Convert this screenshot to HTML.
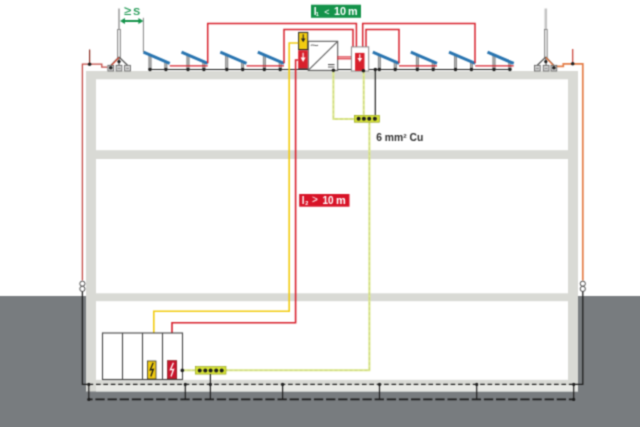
<!DOCTYPE html>
<html><head><meta charset="utf-8"><style>html,body{margin:0;padding:0;background:#fff;}svg{display:block;}#w{width:640px;height:427px;overflow:hidden;}</style></head>
<body><div id="w"><svg width="640" height="427" viewBox="0 0 640 427">
<defs><filter id="soft" filterUnits="userSpaceOnUse" x="0" y="0" width="640" height="427" color-interpolation-filters="sRGB"><feConvolveMatrix order="3" kernelMatrix="1 3 1 3 9 3 1 3 1" edgeMode="duplicate"/></filter></defs>
<g filter="url(#soft)">
<rect x="0" y="0" width="640" height="427" fill="#fff"/>
<rect x="0" y="296" width="640" height="131" fill="#787c7f"/>
<rect x="86" y="71" width="492" height="320.5" fill="#d9dad5"/>
<rect x="96" y="385" width="482" height="6.5" fill="#e8e9e5"/>
<rect x="96" y="79.3" width="472" height="70.89999999999999" fill="#fff"/>
<rect x="96" y="159" width="472" height="134.3" fill="#fff"/>
<rect x="96" y="301.2" width="472" height="78.60000000000002" fill="#fff"/>
<line x1="149.5" y1="69.5" x2="510.5" y2="69.5" stroke="#1e1e1e" stroke-width="1.2"/>
<rect x="148.9" y="55.0" width="2.2" height="14.5" fill="#b4b4b4" stroke="#5a5a5a" stroke-width="0.6"/>
<rect x="164.8" y="61.8" width="2.2" height="7.7" fill="#b4b4b4" stroke="#5a5a5a" stroke-width="0.6"/>
<line x1="143.5" y1="52.2" x2="169.7" y2="63.4" stroke="#2874b0" stroke-width="3"/>
<circle cx="150.0" cy="69.5" r="1.8" fill="#1e1e1e"/>
<circle cx="165.9" cy="69.5" r="1.8" fill="#1e1e1e"/>
<rect x="186.9" y="55.0" width="2.2" height="14.5" fill="#b4b4b4" stroke="#5a5a5a" stroke-width="0.6"/>
<rect x="202.8" y="61.8" width="2.2" height="7.7" fill="#b4b4b4" stroke="#5a5a5a" stroke-width="0.6"/>
<line x1="181.5" y1="52.2" x2="207.7" y2="63.4" stroke="#2874b0" stroke-width="3"/>
<circle cx="188.0" cy="69.5" r="1.8" fill="#1e1e1e"/>
<circle cx="203.9" cy="69.5" r="1.8" fill="#1e1e1e"/>
<rect x="225.7" y="55.0" width="2.2" height="14.5" fill="#b4b4b4" stroke="#5a5a5a" stroke-width="0.6"/>
<rect x="241.6" y="61.8" width="2.2" height="7.7" fill="#b4b4b4" stroke="#5a5a5a" stroke-width="0.6"/>
<line x1="220.3" y1="52.2" x2="246.5" y2="63.4" stroke="#2874b0" stroke-width="3"/>
<circle cx="226.8" cy="69.5" r="1.8" fill="#1e1e1e"/>
<circle cx="242.70000000000002" cy="69.5" r="1.8" fill="#1e1e1e"/>
<rect x="263.2" y="55.0" width="2.2" height="14.5" fill="#b4b4b4" stroke="#5a5a5a" stroke-width="0.6"/>
<rect x="279.1" y="61.8" width="2.2" height="7.7" fill="#b4b4b4" stroke="#5a5a5a" stroke-width="0.6"/>
<line x1="257.8" y1="52.2" x2="284.0" y2="63.4" stroke="#2874b0" stroke-width="3"/>
<circle cx="264.3" cy="69.5" r="1.8" fill="#1e1e1e"/>
<circle cx="280.2" cy="69.5" r="1.8" fill="#1e1e1e"/>
<rect x="378.2" y="55.0" width="2.2" height="14.5" fill="#b4b4b4" stroke="#5a5a5a" stroke-width="0.6"/>
<rect x="394.1" y="61.8" width="2.2" height="7.7" fill="#b4b4b4" stroke="#5a5a5a" stroke-width="0.6"/>
<line x1="372.8" y1="52.2" x2="399.0" y2="63.4" stroke="#2874b0" stroke-width="3"/>
<circle cx="379.3" cy="69.5" r="1.8" fill="#1e1e1e"/>
<circle cx="395.2" cy="69.5" r="1.8" fill="#1e1e1e"/>
<rect x="416.2" y="55.0" width="2.2" height="14.5" fill="#b4b4b4" stroke="#5a5a5a" stroke-width="0.6"/>
<rect x="432.1" y="61.8" width="2.2" height="7.7" fill="#b4b4b4" stroke="#5a5a5a" stroke-width="0.6"/>
<line x1="410.8" y1="52.2" x2="437.0" y2="63.4" stroke="#2874b0" stroke-width="3"/>
<circle cx="417.3" cy="69.5" r="1.8" fill="#1e1e1e"/>
<circle cx="433.2" cy="69.5" r="1.8" fill="#1e1e1e"/>
<rect x="454.4" y="55.0" width="2.2" height="14.5" fill="#b4b4b4" stroke="#5a5a5a" stroke-width="0.6"/>
<rect x="470.3" y="61.8" width="2.2" height="7.7" fill="#b4b4b4" stroke="#5a5a5a" stroke-width="0.6"/>
<line x1="449.0" y1="52.2" x2="475.2" y2="63.4" stroke="#2874b0" stroke-width="3"/>
<circle cx="455.5" cy="69.5" r="1.8" fill="#1e1e1e"/>
<circle cx="471.4" cy="69.5" r="1.8" fill="#1e1e1e"/>
<rect x="492.9" y="55.0" width="2.2" height="14.5" fill="#b4b4b4" stroke="#5a5a5a" stroke-width="0.6"/>
<rect x="508.8" y="61.8" width="2.2" height="7.7" fill="#b4b4b4" stroke="#5a5a5a" stroke-width="0.6"/>
<line x1="487.5" y1="52.2" x2="513.7" y2="63.4" stroke="#2874b0" stroke-width="3"/>
<circle cx="494.0" cy="69.5" r="1.8" fill="#1e1e1e"/>
<circle cx="509.9" cy="69.5" r="1.8" fill="#1e1e1e"/>
<line x1="169.7" y1="65.8" x2="207.7" y2="65.8" stroke="#d8202c" stroke-width="1.3"/>
<line x1="246.5" y1="65.8" x2="284.0" y2="65.8" stroke="#d8202c" stroke-width="1.3"/>
<line x1="399.0" y1="65.8" x2="437.0" y2="65.8" stroke="#d8202c" stroke-width="1.3"/>
<line x1="475.2" y1="65.8" x2="513.7" y2="65.8" stroke="#d8202c" stroke-width="1.3"/>
<polyline points="207.7,63.3 207.7,23.4 356.4,23.4 356.4,46.9" fill="none" stroke="#d8202c" stroke-width="1.5"/>
<polyline points="284,63.3 284,29.4 353,29.4 353,46.9" fill="none" stroke="#d8202c" stroke-width="1.5"/>
<polyline points="475,63.3 475,23.4 362.7,23.4 362.7,46.9" fill="none" stroke="#d8202c" stroke-width="1.5"/>
<polyline points="399,63.3 399,29.4 366,29.4 366,46.9" fill="none" stroke="#d8202c" stroke-width="1.5"/>
<rect x="311" y="4.7" width="50" height="13.1" fill="#14934a"/>
<text x="313.7" y="15.2" font-family="Liberation Sans" font-weight="bold" font-size="10.5" fill="#fff">l</text>
<text x="315.8" y="16.3" font-family="Liberation Sans" font-weight="bold" font-size="5.5" fill="#fff">1</text>
<text x="324.3" y="14.6" font-family="Liberation Sans" font-size="9" fill="#fff">&lt;</text>
<text x="334" y="15.2" font-family="Liberation Sans" font-weight="bold" font-size="10.8" fill="#fff">10</text>
<text x="348" y="15.2" font-family="Liberation Sans" font-weight="bold" font-size="10.8" fill="#fff" textLength="9.6" lengthAdjust="spacingAndGlyphs">m</text>
<rect x="308.2" y="41.3" width="29.5" height="29.1" fill="#fff" stroke="#5a5a5a" stroke-width="1.1"/>
<line x1="308.2" y1="70.4" x2="337.7" y2="41.3" stroke="#5a5a5a" stroke-width="1.1"/>
<path d="M310.7 45.3 q1.8 -0.6 3.7 0 t3.7 0" fill="none" stroke="#555" stroke-width="0.9"/>
<line x1="328" y1="64.6" x2="334.5" y2="64.6" stroke="#444" stroke-width="1"/>
<line x1="328" y1="67" x2="334.5" y2="67" stroke="#444" stroke-width="0.9"/>
<rect x="298.6" y="32.4" width="9.2" height="17.1" fill="#f2cc10" stroke="#2a2a2a" stroke-width="1"/>
<line x1="303.2" y1="34.2" x2="303.2" y2="39.5" stroke="#222" stroke-width="1.1"/>
<polygon points="300.9,38.6 305.5,38.6 303.2,42.3" fill="#222"/>
<rect x="298.2" y="50.2" width="9.6" height="18.5" fill="#d8202c"/>
<line x1="303.1" y1="52.8" x2="303.1" y2="58.5" stroke="#fff" stroke-width="1.1"/>
<polygon points="300.6,57.6 305.6,57.6 303.1,62" fill="#fff"/>
<line x1="298.2" y1="68.9" x2="307.8" y2="68.9" stroke="#222" stroke-width="0.8"/>
<line x1="337" y1="56.9" x2="351.2" y2="56.9" stroke="#d8202c" stroke-width="1.1"/>
<line x1="337" y1="58.8" x2="351.2" y2="58.8" stroke="#d8202c" stroke-width="1.1"/>
<rect x="351.4" y="46.9" width="17.3" height="24.1" fill="#fff" stroke="#888" stroke-width="1"/>
<rect x="355.1" y="52.9" width="9.4" height="18" fill="#d8202c"/>
<line x1="359.8" y1="54.2" x2="359.8" y2="59" stroke="#fff" stroke-width="1.1"/>
<polygon points="357.4,58 362.2,58 359.8,62" fill="#fff"/>
<polyline points="298.2,43 289.2,43 289.2,311.3 153.8,311.3 153.8,333" fill="none" stroke="#f2cc10" stroke-width="1.6"/>
<polyline points="298.2,60 295.6,60 295.6,322.8 172,322.8 172,333" fill="none" stroke="#d8202c" stroke-width="1.6"/>
<rect x="299.2" y="194" width="50.3" height="12.7" fill="#d81428"/>
<text x="301.8" y="203.6" font-family="Liberation Sans" font-weight="bold" font-size="10" fill="#fff">l</text>
<text x="305.3" y="205.2" font-family="Liberation Sans" font-weight="bold" font-size="5.5" fill="#fff">2</text>
<text x="312" y="203.3" font-family="Liberation Sans" font-size="10" fill="#fff">&gt;</text>
<text x="322.5" y="203.6" font-family="Liberation Sans" font-weight="bold" font-size="10" fill="#fff">10</text>
<text x="336" y="203.6" font-family="Liberation Sans" font-weight="bold" font-size="10" fill="#fff" textLength="9.8" lengthAdjust="spacingAndGlyphs">m</text>
<polyline points="333.4,70.5 333.4,119 354.4,119" fill="none" stroke="#dde98a" stroke-width="2"/>
<polyline points="333.4,70.5 333.4,119 354.4,119" fill="none" stroke="#a0a860" stroke-width="0.6" stroke-dasharray="3,2" opacity="0.55"/>
<polyline points="363.7,71 363.7,115.3" fill="none" stroke="#dde98a" stroke-width="2"/>
<polyline points="363.7,71 363.7,115.3" fill="none" stroke="#a0a860" stroke-width="0.6" stroke-dasharray="3,2" opacity="0.55"/>
<polyline points="369.4,122.2 369.4,370.3 226,370.3" fill="none" stroke="#dde98a" stroke-width="2"/>
<polyline points="369.4,122.2 369.4,370.3 226,370.3" fill="none" stroke="#a0a860" stroke-width="0.6" stroke-dasharray="3,2" opacity="0.55"/>
<polyline points="182.3,370.3 195.4,370.3" fill="none" stroke="#dde98a" stroke-width="2"/>
<polyline points="182.3,370.3 195.4,370.3" fill="none" stroke="#a0a860" stroke-width="0.6" stroke-dasharray="3,2" opacity="0.55"/>
<line x1="375.3" y1="69.5" x2="375.3" y2="115.3" stroke="#1e1e1e" stroke-width="1.2"/>
<circle cx="375.3" cy="69.5" r="1.8" fill="#1e1e1e"/>
<rect x="354.4" y="115.3" width="25.1" height="6.9" fill="#d6e236" stroke="#8a9a10" stroke-width="0.6"/>
<circle cx="358.6" cy="118.7" r="2" fill="#1e1e1e"/>
<circle cx="363.9" cy="118.7" r="2" fill="#1e1e1e"/>
<circle cx="369.2" cy="118.7" r="2" fill="#1e1e1e"/>
<circle cx="374.9" cy="118.7" r="2" fill="#1e1e1e"/>
<text x="376.2" y="140.6" font-family="Liberation Sans" font-weight="bold" font-size="10" fill="#2e2e2e" textLength="47" lengthAdjust="spacingAndGlyphs">6 mm² Cu</text>
<rect x="102.5" y="333" width="80" height="46.5" fill="#fff" stroke="#444" stroke-width="1.1"/>
<line x1="122.5" y1="333" x2="122.5" y2="379.5" stroke="#444" stroke-width="1.1"/>
<line x1="142.5" y1="333" x2="142.5" y2="379.5" stroke="#444" stroke-width="1.1"/>
<line x1="162.5" y1="333" x2="162.5" y2="379.5" stroke="#444" stroke-width="1.1"/>
<rect x="147.5" y="361" width="8.5" height="18" fill="#f2cc10" stroke="#333" stroke-width="0.8"/>
<polyline points="153.2,362.8 150.3,369.8 153.3,369.3 150.8,376.5" fill="none" stroke="#1a1a1a" stroke-width="1.3" stroke-linejoin="miter"/>
<rect x="167.6" y="360.7" width="9.1" height="18" fill="#c9142c" stroke="#7a1010" stroke-width="0.7"/>
<polyline points="173.4,362.8 170.4,369.8 173.6,369.3 171,376.5" fill="none" stroke="#fff" stroke-width="1.3"/>
<circle cx="182.3" cy="370.4" r="1.8" fill="#1e1e1e"/>
<rect x="195.4" y="366.6" width="30.6" height="7.5" fill="#d6e236" stroke="#8a9a10" stroke-width="0.6"/>
<circle cx="199.7" cy="370.4" r="2" fill="#1e1e1e"/>
<circle cx="205.3" cy="370.4" r="2" fill="#1e1e1e"/>
<circle cx="210.6" cy="370.4" r="2" fill="#1e1e1e"/>
<circle cx="216.2" cy="370.4" r="2" fill="#1e1e1e"/>
<circle cx="221.7" cy="370.4" r="2" fill="#1e1e1e"/>
<polyline points="82.4,280.5 82.4,64.2 101.8,64.2 101.8,67.2 107.4,67.2" fill="none" stroke="#c44a44" stroke-width="1.3"/>
<line x1="89.6" y1="49.4" x2="89.6" y2="64.2" stroke="#8a2a20" stroke-width="1.2"/>
<circle cx="89.6" cy="64.2" r="1.8" fill="#1e1e1e"/>
<polyline points="582.8,280.5 582.8,63.8 563.3,63.8 563.3,66.3 555,66.3" fill="none" stroke="#e47c46" stroke-width="1.7"/>
<line x1="572.7" y1="49" x2="572.7" y2="63.8" stroke="#c83a30" stroke-width="1.2"/>
<circle cx="572.7" cy="63.8" r="1.8" fill="#1e1e1e"/>
<circle cx="82.4" cy="283.7" r="2.6" fill="#fff" stroke="#333" stroke-width="0.9"/>
<circle cx="82.4" cy="288.9" r="2.6" fill="#fff" stroke="#333" stroke-width="0.9"/>
<circle cx="582.8" cy="283.7" r="2.6" fill="#fff" stroke="#333" stroke-width="0.9"/>
<circle cx="582.8" cy="288.9" r="2.6" fill="#fff" stroke="#333" stroke-width="0.9"/>
<polyline points="82.4,291.5 82.4,384.4 90,384.4" fill="none" stroke="#1e1e1e" stroke-width="1.3"/>
<polyline points="582.8,291.5 582.8,384.4 573.7,384.4" fill="none" stroke="#1e1e1e" stroke-width="1.3"/>
<line x1="88" y1="384.4" x2="574" y2="384.4" stroke="#1e1e1e" stroke-width="1.3" stroke-dasharray="4.6,2.788" stroke-dashoffset="6.776"/>
<line x1="88" y1="399.4" x2="574" y2="399.4" stroke="#1e1e1e" stroke-width="1.6" stroke-dasharray="9.3,2.84" stroke-dashoffset="4.74"/>
<line x1="88.8" y1="384.4" x2="88.8" y2="399.4" stroke="#1e1e1e" stroke-width="1.2"/>
<circle cx="88.8" cy="384.4" r="1.6" fill="#1e1e1e"/>
<line x1="185.3" y1="384.4" x2="185.3" y2="399.4" stroke="#1e1e1e" stroke-width="1.2"/>
<circle cx="185.3" cy="384.4" r="1.6" fill="#1e1e1e"/>
<line x1="210.4" y1="384.4" x2="210.4" y2="399.4" stroke="#1e1e1e" stroke-width="1.2"/>
<circle cx="210.4" cy="384.4" r="1.6" fill="#1e1e1e"/>
<line x1="282.6" y1="384.4" x2="282.6" y2="399.4" stroke="#1e1e1e" stroke-width="1.2"/>
<circle cx="282.6" cy="384.4" r="1.6" fill="#1e1e1e"/>
<line x1="379.5" y1="384.4" x2="379.5" y2="399.4" stroke="#1e1e1e" stroke-width="1.2"/>
<circle cx="379.5" cy="384.4" r="1.6" fill="#1e1e1e"/>
<line x1="476.7" y1="384.4" x2="476.7" y2="399.4" stroke="#1e1e1e" stroke-width="1.2"/>
<circle cx="476.7" cy="384.4" r="1.6" fill="#1e1e1e"/>
<line x1="573.7" y1="384.4" x2="573.7" y2="399.4" stroke="#1e1e1e" stroke-width="1.2"/>
<circle cx="573.7" cy="384.4" r="1.6" fill="#1e1e1e"/>
<circle cx="88.8" cy="399.4" r="1.6" fill="#1e1e1e"/>
<circle cx="573.7" cy="399.4" r="1.6" fill="#1e1e1e"/>
<line x1="210.4" y1="374" x2="210.4" y2="384.4" stroke="#1e1e1e" stroke-width="1.2"/>
<line x1="119" y1="8.5" x2="119" y2="29.5" stroke="#ababab" stroke-width="1.8"/>
<rect x="117.6" y="29.5" width="2.8" height="28" fill="#e6e6e6" stroke="#7a7a7a" stroke-width="0.8"/>
<line x1="119" y1="57" x2="110.80000000000001" y2="65.3" stroke="#555" stroke-width="1.2"/>
<line x1="119" y1="57" x2="119.0" y2="65.3" stroke="#555" stroke-width="1.2"/>
<line x1="119" y1="57" x2="127.5" y2="65.3" stroke="#555" stroke-width="1.2"/>
<line x1="119" y1="57.5" x2="110.80000000000001" y2="66" stroke="#d9503a" stroke-width="1.2"/>
<rect x="107.9" y="65.3" width="5.8" height="5.7" fill="#d4d4d4" stroke="#5a5a5a" stroke-width="0.8"/>
<line x1="109.30000000000001" y1="68.3" x2="112.30000000000001" y2="68.3" stroke="#666" stroke-width="0.7"/>
<rect x="116.1" y="65.3" width="5.8" height="5.7" fill="#d4d4d4" stroke="#5a5a5a" stroke-width="0.8"/>
<line x1="117.5" y1="68.3" x2="120.5" y2="68.3" stroke="#666" stroke-width="0.7"/>
<rect x="124.6" y="65.3" width="5.8" height="5.7" fill="#d4d4d4" stroke="#5a5a5a" stroke-width="0.8"/>
<line x1="126.0" y1="68.3" x2="129.0" y2="68.3" stroke="#666" stroke-width="0.7"/>
<circle cx="110.80000000000001" cy="67.8" r="1.8" fill="#1e1e1e"/>
<circle cx="119" cy="61.6" r="1.7" fill="#1e1e1e"/>
<line x1="545.8" y1="8.5" x2="545.8" y2="29.5" stroke="#c4c4c4" stroke-width="2.6"/>
<rect x="544.4" y="29.5" width="2.8" height="28" fill="#e6e6e6" stroke="#7a7a7a" stroke-width="0.8"/>
<line x1="545.8" y1="57" x2="537.3" y2="65.3" stroke="#555" stroke-width="1.2"/>
<line x1="545.8" y1="57" x2="546.1" y2="65.3" stroke="#555" stroke-width="1.2"/>
<line x1="545.8" y1="57" x2="553.9" y2="65.3" stroke="#555" stroke-width="1.2"/>
<line x1="545.8" y1="57.5" x2="553.9" y2="66" stroke="#e8763e" stroke-width="1.2"/>
<rect x="534.4" y="65.3" width="5.8" height="5.7" fill="#d4d4d4" stroke="#5a5a5a" stroke-width="0.8"/>
<line x1="535.8" y1="68.3" x2="538.8" y2="68.3" stroke="#666" stroke-width="0.7"/>
<rect x="543.2" y="65.3" width="5.8" height="5.7" fill="#d4d4d4" stroke="#5a5a5a" stroke-width="0.8"/>
<line x1="544.6" y1="68.3" x2="547.6" y2="68.3" stroke="#666" stroke-width="0.7"/>
<rect x="551" y="65.3" width="5.8" height="5.7" fill="#d4d4d4" stroke="#5a5a5a" stroke-width="0.8"/>
<line x1="552.4" y1="68.3" x2="555.4" y2="68.3" stroke="#666" stroke-width="0.7"/>
<circle cx="553.9" cy="67.8" r="1.8" fill="#1e1e1e"/>
<circle cx="545.8" cy="61.6" r="1.7" fill="#1e1e1e"/>
<line x1="143.4" y1="17.8" x2="143.4" y2="52" stroke="#777" stroke-width="0.9"/>
<text x="124" y="15.2" font-family="Liberation Sans" font-size="13" fill="#14934a" stroke="#14934a" stroke-width="0.15">≥</text>
<text x="133.3" y="15.2" font-family="Liberation Sans" font-size="13.5" fill="#14934a" stroke="#14934a" stroke-width="0.2">s</text>
<line x1="123" y1="21" x2="141" y2="21" stroke="#14934a" stroke-width="2"/>
<polygon points="120,21 125,18 125,24" fill="#14934a"/>
<polygon points="143.4,21 138.4,18 138.4,24" fill="#14934a"/>
<circle cx="333.4" cy="70.2" r="1.8" fill="#1e1e1e"/>
<circle cx="363.4" cy="70.8" r="1.8" fill="#1e1e1e"/>
</g>
</svg></div></body></html>
